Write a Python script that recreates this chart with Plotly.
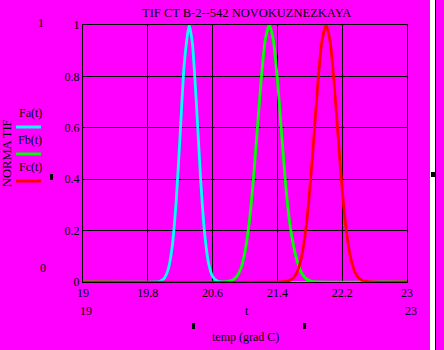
import plotly.graph_objects as go

# Normalised TIF curves vs temperature (grad C)
t_a = [19.0, 19.90, 19.95, 20.00, 20.05, 20.10, 20.15, 20.20, 20.25, 20.31, 20.35,
       20.40, 20.45, 20.50, 20.55, 20.60, 20.65, 20.70, 23.0]
fa = [0.0, 0.0, 0.003, 0.013, 0.047, 0.135, 0.313, 0.578, 0.849, 1.0, 0.930,
      0.693, 0.411, 0.195, 0.073, 0.022, 0.005, 0.0, 0.0]

t_b = [19.0, 20.75, 20.80, 20.85, 20.90, 20.95, 21.00, 21.05, 21.10, 21.15, 21.20,
       21.25, 21.30, 21.35, 21.40, 21.45, 21.50, 21.55, 21.60, 21.65, 21.70,
       21.75, 21.80, 21.85, 21.90, 23.0]
fb = [0.0, 0.0, 0.003, 0.008, 0.022, 0.054, 0.118, 0.226, 0.386, 0.586, 0.788,
      0.942, 1.0, 0.942, 0.788, 0.586, 0.386, 0.235, 0.140, 0.075, 0.035,
      0.014, 0.005, 0.0015, 0.0, 0.0]

t_c = [19.0, 21.45, 21.50, 21.55, 21.60, 21.65, 21.70, 21.75, 21.80, 21.85, 21.90,
       21.95, 22.00, 22.05, 22.10, 22.15, 22.20, 22.25, 22.30, 22.35, 22.40,
       22.45, 22.50, 22.55, 23.0]
fc = [0.0, 0.0, 0.002, 0.006, 0.017, 0.044, 0.101, 0.203, 0.360, 0.563, 0.775,
      0.938, 1.0, 0.938, 0.775, 0.563, 0.360, 0.203, 0.101, 0.044, 0.017,
      0.006, 0.002, 0.0, 0.0]

x_ticks = [19, 19.8, 20.6, 21.4, 22.2, 23]
x_tick_text = ["19", "19.8", "20.6", "21.4", "22.2", "23"]
y_ticks = [0, 0.2, 0.4, 0.6, 0.8, 1]
y_tick_text = ["0", "0.2", "0.4", "0.6", "0.8", "1"]

series = [("Fa(t)", t_a, fa, "#00FFFF"),
          ("Fb(t)", t_b, fb, "#00FF00"),
          ("Fc(t)", t_c, fc, "#FF0000")]

MAG = "#FF00FF"
FONT = "Liberation Serif"
W, H = 444, 350
L, R, T, B = 83, 407, 25, 282


def px(x):
    return (x - L) / (R - L)


def py(y):
    return (B - y) / (B - T)


fig = go.Figure()
for name, tx, fy, col in series:
    fig.add_trace(go.Scatter(x=tx, y=fy, mode="lines", name=name,
                             line=dict(color=col, width=2.8, shape="spline",
                                       smoothing=0.6),
                             showlegend=False))

anns = []


def txt(s, x, y, size=12, angle=0):
    anns.append(dict(text=s, x=px(x), y=py(y), xref="paper", yref="paper",
                     showarrow=False, xanchor="center", yanchor="middle",
                     textangle=angle, font=dict(family=FONT, size=size, color="black")))


txt("TIF CT B-2--542 NOVOKUZNEZKAYA", 246, 13, 12.5)
txt("1", 41, 23)
txt("0", 43, 268)
txt("NORMA TIF", 7, 153, 12.5, -90)
txt("19", 86, 311)
txt("t", 247, 311)
txt("23", 411, 311)
txt("temp (grad C)", 245, 337)

shapes = []
# legend samples at the left of the plot
for i, (name, tx, fy, col) in enumerate(series):
    ty = 113 + 27 * i
    txt(name, 30, ty)
    ly = ty + 14
    shapes.append(dict(type="line", xref="paper", yref="paper",
                       x0=px(16), x1=px(41), y0=py(ly), y1=py(ly),
                       line=dict(color=col, width=3)))

# side strip and small markers
shapes.append(dict(type="rect", xref="paper", yref="paper",
                   x0=px(430), x1=px(435), y0=py(0), y1=py(350),
                   fillcolor="white", line=dict(width=0), layer="below"))
shapes.append(dict(type="rect", xref="paper", yref="paper",
                   x0=px(435), x1=px(436), y0=py(0), y1=py(350),
                   fillcolor="black", line=dict(width=0)))
for x0, y0, x1, y1 in [(50, 174, 53, 180), (192, 323, 195, 329),
                       (303, 323, 306, 329), (431, 172, 435, 177)]:
    shapes.append(dict(type="rect", xref="paper", yref="paper",
                       x0=px(x0), x1=px(x1), y0=py(y0), y1=py(y1),
                       fillcolor="black", line=dict(width=0)))

axis_common = dict(showgrid=True, gridcolor="black", gridwidth=1,
                   showline=True, linecolor="black", linewidth=1, mirror=True,
                   zeroline=False, ticks="", layer="below traces",
                   tickfont=dict(family=FONT, size=12, color="black"))

fig.update_layout(
    width=W, height=H,
    margin=dict(l=L, r=W - R, t=T, b=H - B),
    paper_bgcolor=MAG, plot_bgcolor=MAG,
    xaxis=dict(range=[19, 23], tickvals=x_ticks, ticktext=x_tick_text, **axis_common),
    yaxis=dict(range=[0, 1], tickvals=y_ticks, ticktext=y_tick_text, **axis_common),
    annotations=anns, shapes=shapes,
)

fig.write_html("out.html")
